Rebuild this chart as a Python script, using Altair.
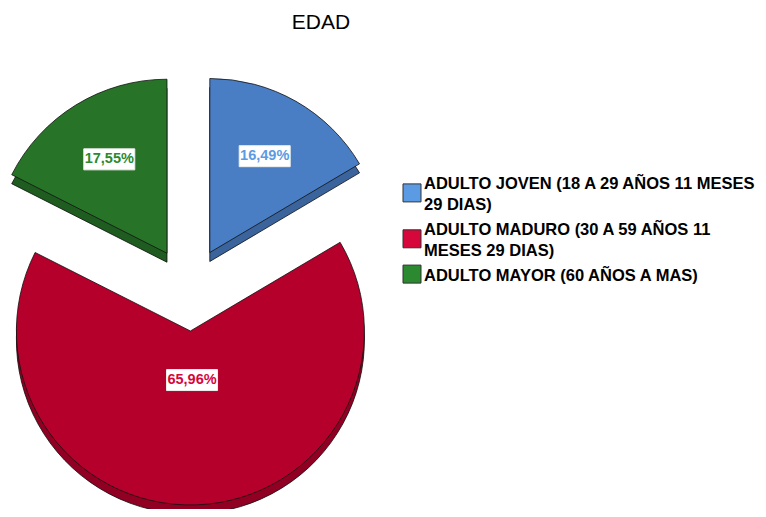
import altair as alt
import pandas as pd

# ---- data ----
categories = [
    "ADULTO JOVEN (18 A 29 AÑOS 11 MESES 29 DIAS)",
    "ADULTO MADURO (30 A 59 AÑOS 11 MESES 29 DIAS)",
    "ADULTO MAYOR (60 AÑOS A MAS)",
]
percentages = [16.49, 65.96, 17.55]
slice_labels = ["16,49%", "65,96%", "17,55%"]
legend_lines = [
    ["ADULTO JOVEN (18 A 29 AÑOS 11 MESES", "29 DIAS)"],
    ["ADULTO MADURO (30 A 59 AÑOS 11", "MESES 29 DIAS)"],
    ["ADULTO MAYOR (60 AÑOS A MAS)"],
]

# ---- styles / layout ----
legend_colors = ["#5b9be4", "#d6073a", "#2b8a2f"]
slice_colors = ["#4a7ec4", "#b6002c", "#277428"]
FONT = "Liberation Sans, Arial, sans-serif"
CX, CY, R, EXPLODE, DEPTH = 181, 241, 174, 42, 9
BOX_W, BOX_H = 51, 21
LEG_SQ_X, LEG_TXT_X, LEG_Y, LINE_H, GAP = 404, 416, 135.3, 21.2, 3.5
LEG_FONT, LEG_CAP = 16.5, 11.8

df = pd.DataFrame({
    "grupo": categories,
    "pct": percentages,
    "etiqueta": slice_labels,
    "orden": list(range(len(categories))),
})

leg_df = pd.DataFrame({
    "grupo": categories,
    "texto": ["\n".join(lines) for lines in legend_lines],
    "lineas": [len(lines) for lines in legend_lines],
    "orden": list(range(len(categories))),
})

base = (
    alt.Chart(df)
    .transform_window(cum="sum(pct)", sort=[alt.SortField("orden")], frame=[None, 0])
    .transform_joinaggregate(total="sum(pct)")
    .transform_calculate(
        a0="2*PI*(datum.cum - datum.pct)/datum.total",
        a1="2*PI*datum.cum/datum.total",
    )
    .transform_calculate(
        mid="(datum.a0 + datum.a1)/2",
        half="(datum.a1 - datum.a0)/2",
    )
    .transform_calculate(
        px=f"{CX} + {EXPLODE}*sin(datum.mid)",
        py=f"{CY} - {EXPLODE}*cos(datum.mid)",
        cr=f"2*{R}*sin(datum.half)/(3*datum.half)",
    )
    .transform_calculate(
        lx="datum.px + datum.cr*sin(datum.mid)",
        ly="datum.py - datum.cr*cos(datum.mid)",
    )
    .transform_calculate(
        bx0=f"datum.lx - {BOX_W/2}",
        bx1=f"datum.lx + {BOX_W/2}",
        by0=f"datum.ly - {BOX_H/2}",
        by1=f"datum.ly + {BOX_H/2}",
    )
)

pos = dict(
    x=alt.X("px:Q", scale=None, axis=None),
    y=alt.Y("py:Q", scale=None, axis=None),
    theta=alt.Theta("a0:Q", scale=None),
    theta2=alt.Theta2("a1:Q"),
)
arc_color = alt.Color("grupo:N", scale=alt.Scale(domain=categories, range=slice_colors), legend=None)
key_fill = alt.Fill("grupo:N", scale=alt.Scale(domain=categories, range=legend_colors), legend=None)

side = base.mark_arc(radius=R, yOffset=DEPTH, stroke="#111111", strokeWidth=0.8).encode(color=arc_color, **pos)
shade = base.mark_arc(radius=R, yOffset=DEPTH, fill="black", fillOpacity=0.2).encode(**pos)
top = base.mark_arc(radius=R, stroke="#111111", strokeWidth=0.8).encode(color=arc_color, **pos)

boxes = base.mark_rect(fill="white", stroke="#eeeeee", strokeWidth=1).encode(
    x=alt.X("bx0:Q", scale=None, axis=None), x2="bx1:Q",
    y=alt.Y("by0:Q", scale=None, axis=None), y2="by1:Q",
)

texts = base.mark_text(font=FONT, fontSize=14.5, fontWeight="bold").encode(
    x=alt.X("lx:Q", scale=None, axis=None),
    y=alt.Y("ly:Q", scale=None, axis=None),
    text="etiqueta:N",
    fill=key_fill,
)

# ---- legend (key squares + wrapped labels) ----
leg_base = (
    alt.Chart(leg_df)
    .transform_window(cum_lines="sum(lineas)", sort=[alt.SortField("orden")], frame=[None, 0])
    .transform_calculate(
        yc=f"{LEG_Y} + (datum.cum_lines - datum.lineas)*{LINE_H} + datum.orden*{GAP}",
        sqx=f"{LEG_SQ_X}",
        tx=f"{LEG_TXT_X}",
    )
    .transform_calculate(
        ysq=f"datum.yc + (datum.lineas - 1)*{LINE_H}/2 - 1",
        ybase=f"datum.yc + {LEG_CAP/2}",
    )
)

key_sq = leg_base.mark_square(size=324, filled=True, stroke="#333333", strokeWidth=1, opacity=1).encode(
    x=alt.X("sqx:Q", scale=None, axis=None),
    y=alt.Y("ysq:Q", scale=None, axis=None),
    fill=key_fill,
)

key_txt = leg_base.mark_text(
    font=FONT, fontSize=LEG_FONT, fontWeight="bold", color="black",
    align="left", baseline="alphabetic", lineBreak="\n", lineHeight=LINE_H,
).encode(
    x=alt.X("tx:Q", scale=None, axis=None),
    y=alt.Y("ybase:Q", scale=None, axis=None),
    text="texto:N",
)

chart = (
    alt.layer(side, shade, top, boxes, texts, key_sq, key_txt)
    .properties(
        width=750,
        height=461,
        autosize=alt.AutoSizeParams(type="none"),
        padding={"left": 0, "top": 40, "right": 0, "bottom": 0},
        title=alt.Title(
            "EDAD",
            font=FONT,
            fontSize=21,
            fontWeight="normal",
            color="black",
            anchor="middle",
            frame="group",
            dx=-62,
            offset=-2,
            baseline="alphabetic",
        ),
    )
    .configure_view(stroke=None)
)

chart.save("out.html", embed_options={"renderer": "svg", "actions": False})
